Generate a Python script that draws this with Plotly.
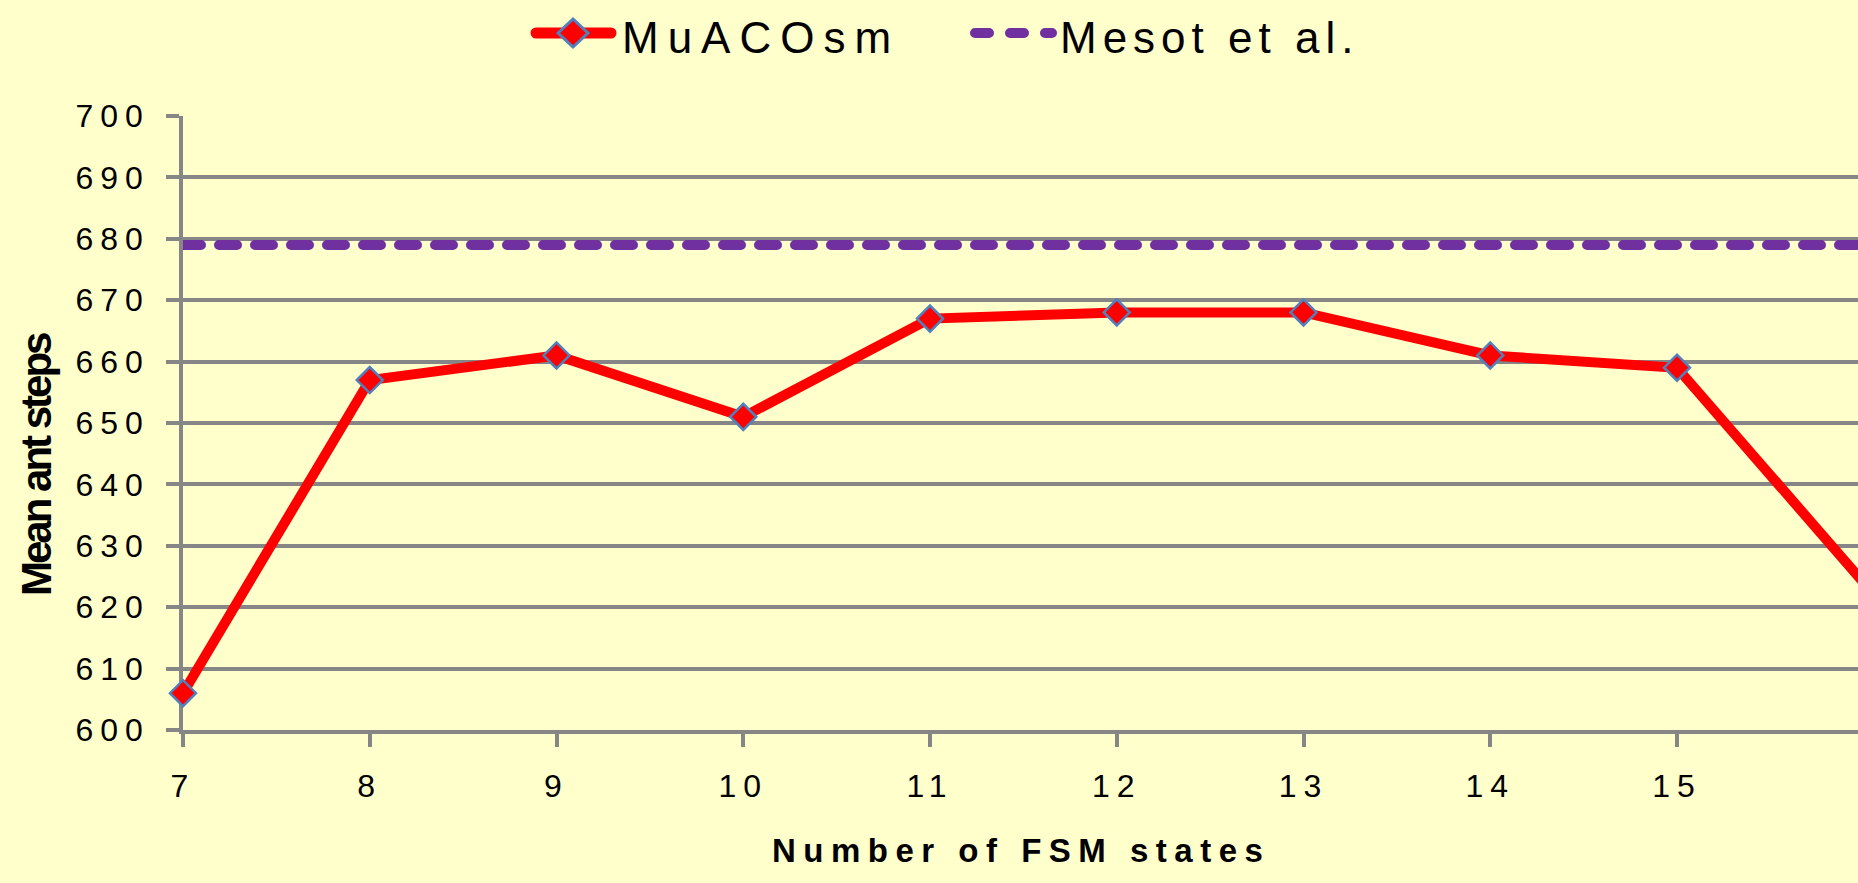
import plotly.graph_objects as go

# Mean ant steps per number of FSM states
states = [7, 8, 9, 10, 11, 12, 13, 14, 15, 16]
muacosm_steps = [606, 657, 661, 651, 667, 668, 668, 661, 659, 624]
mesot_steps = [679, 679, 679, 679, 679, 679, 679, 679, 679, 679]
y_ticks = [600, 610, 620, 630, 640, 650, 660, 670, 680, 690, 700]

W, H = 1858, 883
ML, MR, MT, MB = 183, 0, 116, 153
BG = "#FFFFCC"
GRID = "#868686"
FONT = "Liberation Sans, Arial, sans-serif"


def px(x):
    return (x - ML) / (W - ML - MR)


def py(y):
    return (H - MB - y) / (H - MT - MB)


fig = go.Figure()

fig.add_trace(go.Scatter(
    x=states, y=mesot_steps, mode="lines", name="Mesot et al.",
    line=dict(color="#7030A0", width=10, dash="28px,9px"),
    showlegend=False, hoverinfo="skip",
))
fig.add_trace(go.Scatter(
    x=states, y=muacosm_steps, mode="lines+markers", name="MuACOsm",
    line=dict(color="#FF0000", width=10),
    marker=dict(symbol="diamond", size=20, color="#FF0000",
                line=dict(color="#4F81BD", width=2.5)),
    cliponaxis=False, showlegend=False,
))

# legend drawn as layout decoration
shapes = [
    dict(type="line", xref="paper", yref="paper",
         x0=px(536), x1=px(611), y0=py(33), y1=py(33),
         line=dict(color="#FF0000", width=11)),
    dict(type="path", xref="paper", yref="paper",
         path=(f"M {px(558)} {py(33)} L {px(573)} {py(19)} "
               f"L {px(588)} {py(33)} L {px(573)} {py(47)} Z"),
         fillcolor="#FF0000", line=dict(color="#4F81BD", width=3)),
    dict(type="line", xref="paper", yref="paper",
         x0=px(975), x1=px(1052), y0=py(33), y1=py(33),
         line=dict(color="#7030A0", width=10, dash="14px,21px")),
]

annotations = [
    dict(text="MuACOsm", xref="paper", yref="paper", x=px(620), y=py(38),
         xanchor="left", yanchor="middle", align="left", showarrow=False,
         font=dict(family=FONT, size=44, color="black")),
    dict(text="Mesot et al.", xref="paper", yref="paper", x=px(1058), y=py(38),
         xanchor="left", yanchor="middle", align="left", showarrow=False,
         font=dict(family=FONT, size=44, color="black")),
    dict(text="<b>Number of FSM states</b>", xref="paper", yref="paper",
         x=px(1021), y=py(850), xanchor="center", yanchor="middle",
         showarrow=False, font=dict(family=FONT, size=33, color="black")),
    dict(text="<b>Mean ant steps</b>", xref="paper", yref="paper",
         x=px(36), y=py(466), xanchor="center", yanchor="middle",
         textangle=-90, showarrow=False,
         font=dict(family=FONT, size=42, color="black")),
]

fig.update_layout(
    width=W, height=H,
    margin=dict(l=ML, r=MR, t=MT, b=MB, pad=0),
    paper_bgcolor=BG, plot_bgcolor=BG,
    showlegend=False,
    shapes=shapes,
    annotations=annotations,
    xaxis=dict(
        range=[7, 7 + (W - ML - MR) / 186.75],
        tickmode="array", tickvals=states,
        ticks="outside", ticklen=13, tickwidth=3.5, tickcolor=GRID,
        showgrid=False, zeroline=False,
        showline=True, linecolor=GRID, linewidth=3.5,
        tickfont=dict(family=FONT, size=32, color="black"),
        ticklabelstandoff=12, layer="below traces",
    ),
    yaxis=dict(
        range=[600, 700],
        tickmode="array", tickvals=y_ticks,
        ticks="outside", ticklen=13, tickwidth=3.5, tickcolor=GRID,
        showgrid=True, gridcolor=GRID, gridwidth=3.5,
        zeroline=False,
        showline=True, linecolor=GRID, linewidth=3.5,
        tickfont=dict(family=FONT, size=32, color="black"),
        ticklabelstandoff=10, layer="below traces",
    ),
)

# letter spacing for the text, rounded caps for the dashed lines
post_js = """
var gd = document.getElementById('{plot_id}');
gd.querySelectorAll('.xtick text, .ytick text').forEach(function(t){
  t.style.letterSpacing = '7px';
});
var ls = {'MuACOsm': '9px', 'Mesot et al.': '6px',
          'Number of FSM states': '7.5px', 'Mean ant steps': '-3px'};
gd.querySelectorAll('.annotation-text').forEach(function(t){
  var v = ls[t.textContent];
  if (v) { t.style.letterSpacing = v; }
});
var traces = gd.querySelectorAll('.scatterlayer .trace');
if (traces.length) {
  var dashed = traces[0].querySelector('.js-line');
  if (dashed) {
    dashed.style.strokeDasharray = '18px, 18px';
    dashed.style.strokeLinecap = 'round';
  }
}
var sh = gd.querySelectorAll('.layer-above .shapelayer path');
if (sh.length >= 3) {
  sh[0].style.strokeLinecap = 'round';
  sh[2].style.strokeLinecap = 'round';
}
"""

fig.write_html("out.html", post_script=post_js)
